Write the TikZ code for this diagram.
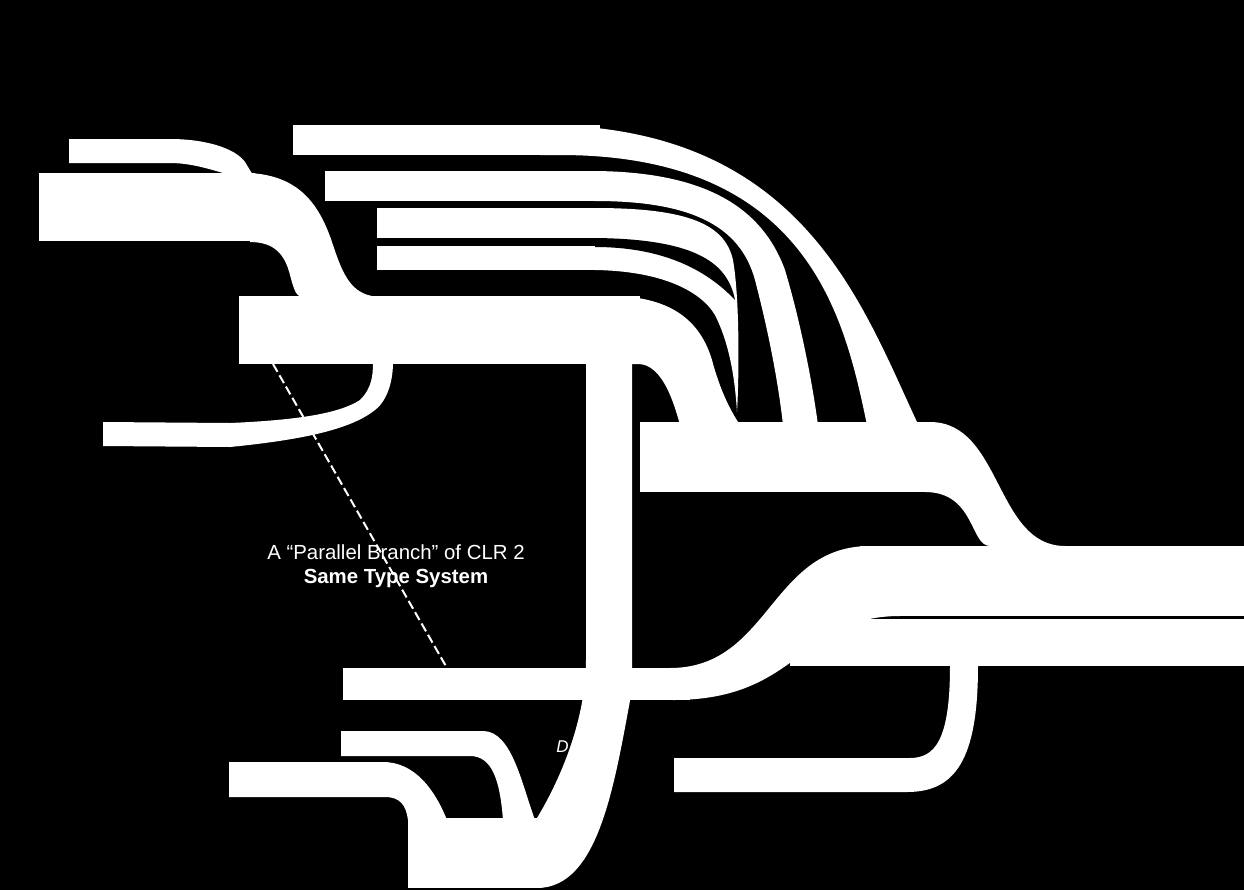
\documentclass[tikz,border=0pt]{standalone}
\usepackage{fontspec}
\setmainfont{Liberation Sans}
\tikzset{
  band/.style={fill=white,draw=none},
  gapfill/.style={fill=black,draw=none},
  lbl/.style={text=white,font=\fontsize{10.2}{12}\selectfont,inner sep=0pt,anchor=base},
  dashline/.style={draw=white,line width=1pt,dash pattern=on 4.5pt off 2pt}
}
\begin{document}
\begin{tikzpicture}[x=0.5pt,y=-0.5pt]
\fill[black] (0,0) rectangle (1244,890);
\useasboundingbox (0,0) rectangle (1244,890);

% A (thin top-left band)
\fill[band] (69,139) -- (170,139) .. controls (205,139) and (235,148) .. (245,162) -- (256,180) -- (240,180) -- (223,173) .. controls (200,166) and (185,163) .. (170,163) -- (69,163) -- cycle;
% B
\fill[band] (39,173) rectangle (255,241);
\fill[band] (250,173) .. controls (300,176) and (320,205) .. (333,245) .. controls (342,272) and (350,292) .. (372,296) -- (372,300) -- (302,300) -- (302,297) .. controls (296,296) and (294,290) .. (290,275) .. controls (285,255) and (275,242) .. (250,242) -- cycle;
% C
\fill[band] (239,296) rectangle (640,364);
% P loop
\fill[band] (103,422) -- (230,423) .. controls (300,420) and (340,413) .. (360,400) .. controls (372,388) and (373,375) .. (373,362) -- (393,362) .. controls (393,380) and (388,400) .. (375,410) .. controls (350,430) and (300,440) .. (230,447) -- (103,446) -- cycle;
% V and K
\fill[band] (586,364) -- (632,364) -- (632,690) .. controls (615,780) and (600,888) .. (537,888) -- (537,818) .. controls (560,780) and (586,720) .. (586,660) -- cycle;
\fill[band] (408,818) rectangle (540,888);
% C-stream into H
\fill[band] (600,296) -- (610,296) .. controls (670,296) and (700,320) .. (712,360) .. controls (720,390) and (730,410) .. (740,425) -- (680,425) .. controls (672,395) and (660,364) .. (638,364) -- (600,364) -- cycle;
% F and G
\fill[band] (377,208) rectangle (600,238);
\fill[band] (377,246) rectangle (600,270);
\fill[band] (595,208) .. controls (690,208) and (725,225) .. (733,260) .. controls (740,300) and (739,380) .. (737,412) .. controls (735,380) and (730,345) .. (715,315) .. controls (700,290) and (660,271) .. (595,270) -- cycle;
\fill[gapfill] (595,238) .. controls (700,239) and (728,265) .. (735,300) .. controls (705,268) and (660,247) .. (595,247) -- cycle;
% E
\fill[band] (325,171) rectangle (600,201);
\fill[band] (595,171) .. controls (705,172) and (762,207) .. (785,270) .. controls (800,320) and (812,380) .. (818,425) -- (783,425) .. controls (778,380) and (768,330) .. (755,280) .. controls (740,225) and (690,201) .. (595,201) -- cycle;
% D
\fill[band] (293,125) rectangle (600,155);
\fill[band] (540,125) .. controls (800,125) and (860,300) .. (917,422) -- (917,425) -- (867,425) .. controls (845,320) and (810,155) .. (560,155) -- (540,155) -- cycle;
% H
\fill[band] (640,422) rectangle (935,492);
\fill[band] (930,422) .. controls (1002,422) and (995,546) .. (1065,546) -- (1065,560) -- (990,560) -- (990,546) .. controls (970,546) and (975,492) .. (925,492) -- cycle;
% L1, L2
\fill[band] (860,546) rectangle (1244,616);
\fill[band] (790,619) rectangle (1244,666);
% J and S
\fill[band] (343,668) rectangle (690,700);
\fill[band] (670,668) .. controls (770,668) and (770,546) .. (870,546) -- (900,546) -- (900,616) .. controls (800,616) and (800,700) .. (673,700) -- cycle;
% W and M
\fill[band] (674,758) -- (910,758) .. controls (935,758) and (950,740) .. (950,666) -- (978,666) .. controls (978,760) and (955,792) .. (907,792) -- (674,792) -- cycle;
% N
\fill[band] (341,731) -- (483,731) .. controls (512,731) and (522,785) .. (535,820) -- (503,820) .. controls (500,780) and (492,756) .. (470,756) -- (341,756) -- cycle;
% O
\fill[band] (229,762) -- (383,762) .. controls (415,762) and (435,790) .. (447,820) -- (408,820) .. controls (406,805) and (400,797) .. (385,797) -- (229,797) -- cycle;

% dashed line
\coordinate (dashA) at (273,364);
\coordinate (dashB) at (447,668);
\draw[dashline] (dashA) -- (dashB);

% labels
\node[lbl] (branch) at (396,559) {A “Parallel Branch” of CLR 2};
\node[lbl,font=\fontsize{10.2}{12}\selectfont\bfseries] (types) at (396,583) {Same Type System};
\node[lbl,anchor=base west,font=\fontsize{8.5}{10}\selectfont\itshape] (dlabel) at (556,752) {D};
\end{tikzpicture}
\end{document}
